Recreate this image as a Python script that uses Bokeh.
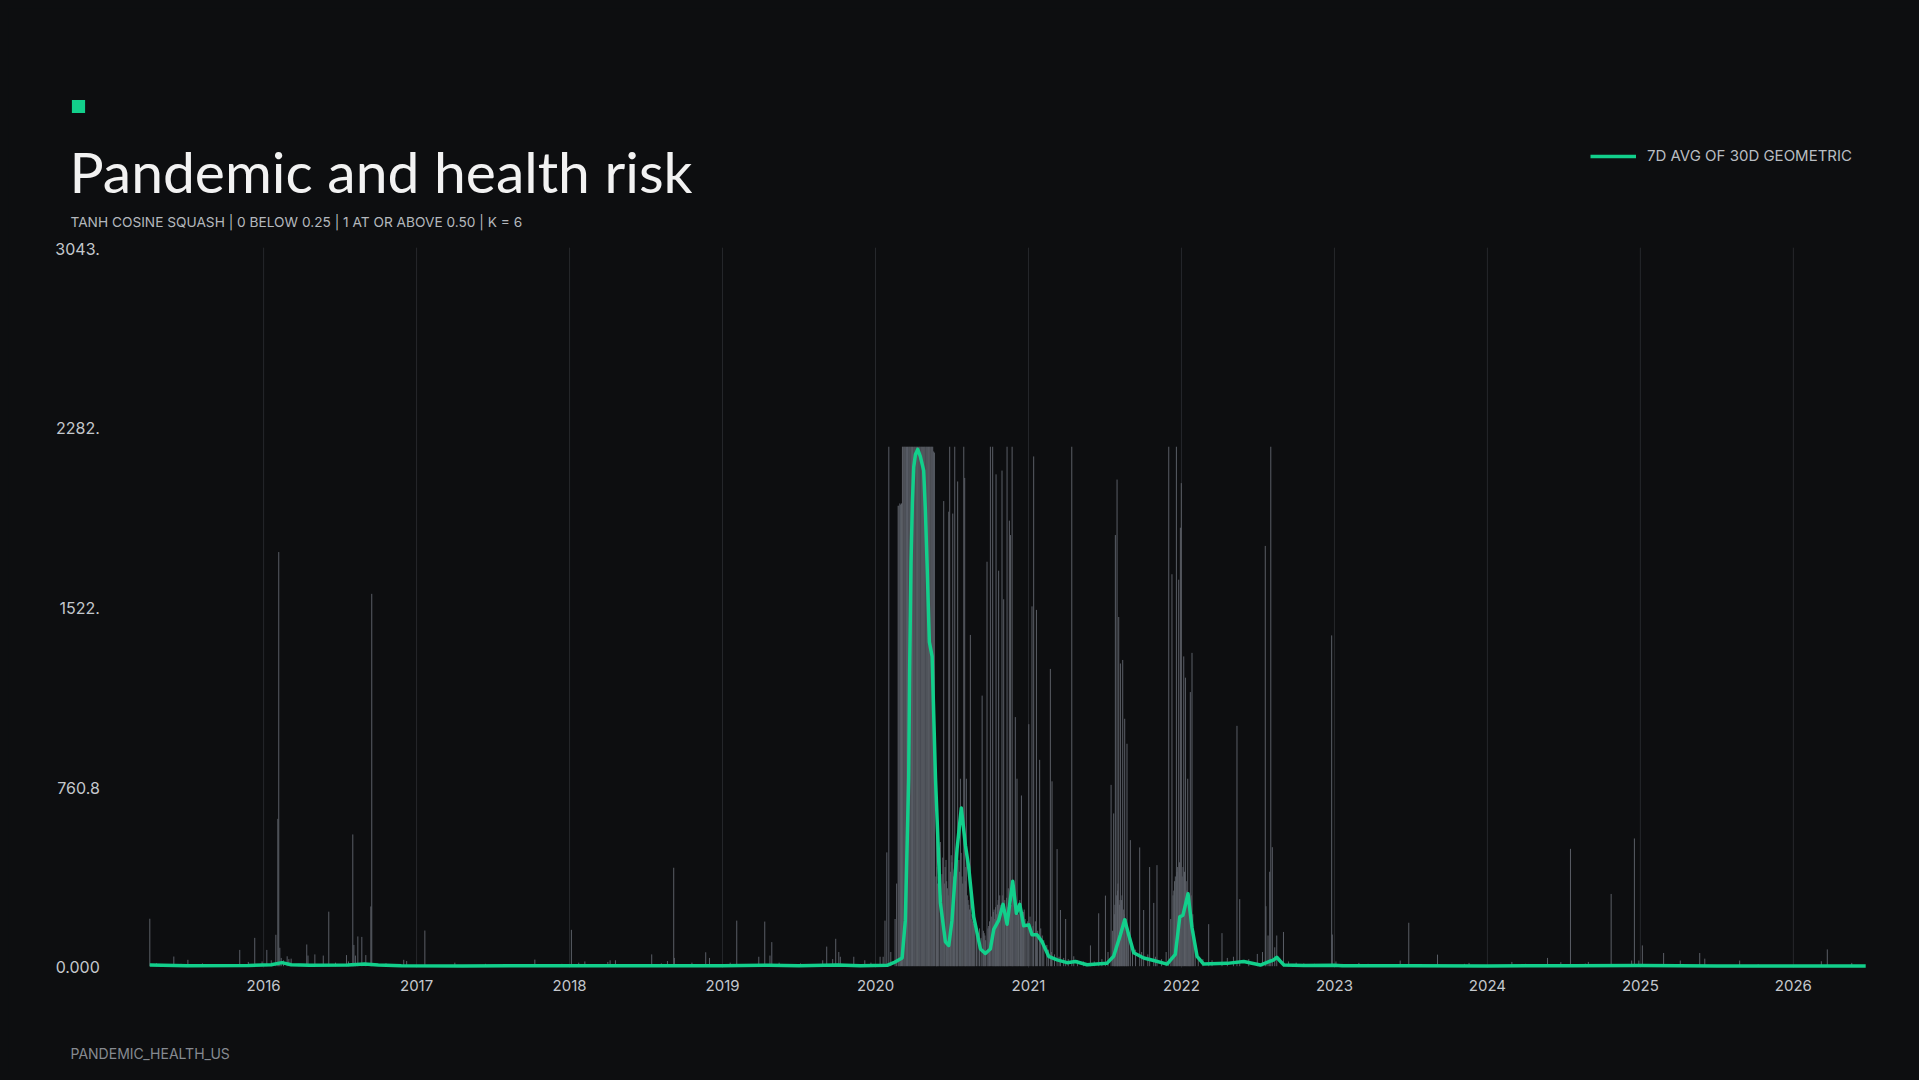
from bokeh.plotting import figure
from bokeh.models import Range1d, Label, Legend, LegendItem, BoxAnnotation
from bokeh.core.properties import value
from bokeh.embed import file_html
from bokeh.resources import INLINE

BG = "#0d0e10"
GREEN = "#12cf8b"
BAR = "#5a5e66"
GRID = "#26282c"
TICK = "#c4c8cd"

# ---- daily readings (decimal year, value) ----
bar_years = [
    2015.256, 2015.300, 2015.413, 2015.460, 2015.505, 2015.600, 2015.700, 2015.844, 2015.900, 2015.942,
    2015.990, 2016.021, 2016.050, 2016.080, 2016.093, 2016.099, 2016.106, 2016.115, 2016.130, 2016.154,
    2016.165, 2016.180, 2016.230, 2016.282, 2016.290, 2016.335, 2016.390, 2016.426, 2016.470, 2016.542,
    2016.555, 2016.583, 2016.590, 2016.600, 2016.616, 2016.642, 2016.668, 2016.701, 2016.707, 2016.800,
    2016.916, 2016.935, 2017.054, 2017.250, 2017.450, 2017.773, 2017.950, 2018.012, 2018.060, 2018.100,
    2018.250, 2018.265, 2018.300, 2018.537, 2018.600, 2018.640, 2018.681, 2018.685, 2018.800, 2018.890,
    2018.915, 2019.050, 2019.093, 2019.237, 2019.276, 2019.310, 2019.322, 2019.370, 2019.510, 2019.655,
    2019.681, 2019.720, 2019.740, 2019.760, 2019.770, 2019.858, 2019.930, 2019.970, 2020.030, 2020.050,
    2020.062, 2020.074, 2020.087, 2020.100, 2020.128, 2020.138,
    2020.148, 2020.153, 2020.159, 2020.164, 2020.170,
    2020.176, 2020.181, 2020.187, 2020.192, 2020.198, 2020.203, 2020.209, 2020.214, 2020.220, 2020.225,
    2020.231, 2020.236, 2020.242, 2020.247, 2020.253, 2020.258, 2020.264, 2020.269, 2020.275, 2020.280,
    2020.286, 2020.291, 2020.297, 2020.302, 2020.308, 2020.313, 2020.319, 2020.324, 2020.330, 2020.335,
    2020.341, 2020.346, 2020.352, 2020.357, 2020.363, 2020.368,
    2020.374, 2020.380, 2020.385, 2020.398, 2020.400, 2020.410, 2020.424, 2020.430, 2020.440, 2020.446,
    2020.450, 2020.461, 2020.470, 2020.479, 2020.485, 2020.490, 2020.500, 2020.505, 2020.510, 2020.518,
    2020.530, 2020.537, 2020.545, 2020.555, 2020.560, 2020.570, 2020.577, 2020.583, 2020.590, 2020.594,
    2020.600, 2020.610, 2020.620, 2020.630, 2020.640, 2020.650, 2020.660, 2020.670, 2020.680, 2020.690,
    2020.697, 2020.710, 2020.720, 2020.729, 2020.740, 2020.751, 2020.760, 2020.766, 2020.775, 2020.780,
    2020.788, 2020.797, 2020.805, 2020.812, 2020.820, 2020.827, 2020.838, 2020.845, 2020.852, 2020.860,
    2020.868, 2020.875, 2020.882, 2020.888, 2020.893, 2020.900, 2020.914, 2020.920, 2020.925, 2020.935,
    2020.943, 2020.954, 2020.962, 2020.972, 2020.985, 2021.002, 2021.010, 2021.023, 2021.030, 2021.034,
    2021.045, 2021.052, 2021.060, 2021.073, 2021.080, 2021.090, 2021.100, 2021.120, 2021.130, 2021.143,
    2021.150, 2021.154, 2021.170, 2021.187, 2021.200, 2021.209, 2021.230, 2021.243, 2021.260, 2021.283,
    2021.296, 2021.320, 2021.360, 2021.405, 2021.430, 2021.459, 2021.480, 2021.503, 2021.520, 2021.540,
    2021.550, 2021.557, 2021.562, 2021.568, 2021.574, 2021.579, 2021.585, 2021.590, 2021.595, 2021.601,
    2021.608, 2021.616, 2021.622, 2021.629, 2021.636, 2021.644, 2021.655, 2021.666, 2021.680, 2021.700,
    2021.727, 2021.740, 2021.753, 2021.780, 2021.792, 2021.819, 2021.830, 2021.840, 2021.870, 2021.900,
    2021.917, 2021.930, 2021.938, 2021.950, 2021.960, 2021.967, 2021.975, 2021.982, 2021.993, 2021.999,
    2022.005, 2022.015, 2022.020, 2022.026, 2022.035, 2022.041, 2022.050, 2022.058, 2022.063, 2022.069,
    2022.080, 2022.090, 2022.110, 2022.140, 2022.178, 2022.200, 2022.265, 2022.300, 2022.340, 2022.363,
    2022.381, 2022.440, 2022.496, 2022.530, 2022.548, 2022.552, 2022.566, 2022.577, 2022.584, 2022.594,
    2022.610, 2022.623, 2022.667, 2022.700, 2022.750, 2022.800, 2022.870, 2022.982, 2022.986, 2023.010,
    2023.050, 2023.160, 2023.220, 2023.430, 2023.486, 2023.674, 2023.850, 2023.880, 2024.160, 2024.250,
    2024.393, 2024.480, 2024.543, 2024.640, 2024.660, 2024.809, 2024.943, 2024.961, 2024.990, 2025.013,
    2025.152, 2025.261, 2025.388, 2025.421, 2025.649, 2025.770, 2026.183, 2026.222, 2026.382,
]
bar_values = [
    201, 12, 41, 10, 27, 12, 8, 69, 18, 120,
    20, 69, 25, 133, 624, 1754, 78, 35, 25, 42,
    30, 32, 10, 92, 45, 50, 45, 231, 15, 47,
    20, 558, 90, 45, 126, 124, 47, 253, 1577, 12,
    27, 22, 151, 15, 10, 28, 10, 154, 15, 20,
    18, 25, 25, 50, 12, 22, 417, 35, 15, 59,
    35, 15, 193, 40, 189, 45, 102, 15, 12, 25,
    83, 30, 116, 60, 40, 40, 25, 15, 40, 40,
    193, 482, 2200, 60, 200, 350,
    1950, 1950, 1960, 1955, 1960,
    2200, 2200, 2200, 2200, 2200, 2200, 2200, 2200, 2200, 2200,
    2200, 2200, 2200, 2200, 2200, 2200, 2200, 2200, 2200, 2200,
    2200, 2200, 2200, 2200, 2200, 2200, 2200, 2200, 2200, 2200,
    2200, 2200, 2200, 2200, 2200, 2200,
    2200, 2180, 2175, 647, 420, 380, 526, 300, 460, 1970,
    350, 450, 330, 1925, 2200, 400, 440, 1917, 380, 2200,
    520, 2053, 450, 794, 480, 350, 2200, 2068, 420, 794,
    300, 260, 1403, 220, 180, 160, 150, 130, 160, 120,
    1146, 140, 110, 1713, 170, 2200, 210, 2200, 240, 200,
    2083, 260, 1675, 300, 230, 2099, 1554, 280, 220, 2200,
    330, 1887, 1826, 260, 2200, 300, 1055, 250, 794, 220,
    280, 723, 200, 240, 180, 1025, 210, 1524, 170, 2159,
    190, 1509, 150, 874, 160, 130, 110, 90, 70, 1259,
    60, 783, 50, 496, 40, 238, 35, 200, 30, 2200,
    42, 25, 20, 88, 20, 224, 30, 299, 60, 768,
    150, 647, 220, 1826, 300, 2061, 350, 1479, 260, 1282,
    280, 1297, 240, 1048, 180, 942, 120, 534, 90, 70,
    503, 60, 238, 50, 420, 268, 40, 428, 30, 60,
    2200, 200, 1660, 320, 380, 2200, 420, 1637, 1857, 2046,
    380, 1312, 400, 1222, 320, 794, 260, 1161, 300, 1327,
    150, 80, 40, 30, 178, 25, 140, 35, 40, 1018,
    284, 30, 52, 60, 1780, 254, 130, 400, 2200, 504,
    80, 130, 145, 20, 15, 12, 10, 1401, 134, 20,
    10, 14, 10, 24, 184, 49, 10, 14, 18, 10,
    35, 17, 497, 11, 18, 306, 24, 541, 24, 88,
    56, 24, 56, 32, 24, 8, 21, 71, 14,
]
# further readings in the busy 2020-2022 stretch
extra_bar_years = [
    2020.395, 2020.405, 2020.415, 2020.435, 2020.455, 2020.465, 2020.475, 2020.495, 2020.515, 2020.525,
    2020.533, 2020.550, 2020.565, 2020.587, 2020.605, 2020.615, 2020.625, 2020.635, 2020.645, 2020.705,
    2020.715, 2020.735, 2020.745, 2020.770, 2020.785, 2020.792, 2020.802, 2020.815, 2020.832, 2020.842,
    2020.857, 2020.864, 2020.897, 2020.907, 2020.930, 2020.948, 2020.958, 2020.967, 2020.978, 2020.995,
    2021.565, 2021.582, 2021.598, 2021.612, 2021.626, 2021.640, 2021.650, 2021.945, 2021.955, 2021.971,
    2021.987, 2022.010, 2022.031, 2022.045, 2022.054, 2022.074,
]
extra_bar_values = [
    380, 350, 440, 390, 420, 360, 300, 470, 410, 360,
    430, 400, 380, 360, 280, 240, 200, 190, 170, 150,
    130, 160, 190, 230, 250, 220, 280, 260, 300, 240,
    290, 250, 310, 280, 240, 260, 210, 230, 200, 190,
    260, 320, 280, 300, 220, 200, 150, 300, 360, 400,
    440, 420, 360, 300, 280, 220,
]

# ---- 7D AVG OF 30D GEOMETRIC ----
line_years = [
    2015.256, 2015.500, 2015.900, 2016.050, 2016.120, 2016.180, 2016.300, 2016.550, 2016.660, 2016.750,
    2016.900, 2017.300, 2018.000, 2018.500, 2019.000, 2019.300, 2019.500, 2019.750, 2019.901, 2020.076,
    2020.119, 2020.174, 2020.195, 2020.217, 2020.223, 2020.232, 2020.241, 2020.250, 2020.261, 2020.276,
    2020.293, 2020.315, 2020.326, 2020.337, 2020.352,
    2020.370, 2020.392, 2020.424, 2020.457, 2020.479, 2020.500, 2020.533, 2020.561, 2020.588, 2020.609,
    2020.642, 2020.686, 2020.718, 2020.751, 2020.773, 2020.805, 2020.834, 2020.860, 2020.897, 2020.921,
    2020.943, 2020.969, 2021.002, 2021.023, 2021.056, 2021.089, 2021.132, 2021.187, 2021.252, 2021.307,
    2021.383, 2021.513, 2021.557, 2021.601, 2021.629, 2021.655, 2021.688, 2021.753, 2021.819, 2021.906,
    2021.960, 2021.989, 2022.010, 2022.043, 2022.069, 2022.102, 2022.145, 2022.298, 2022.407, 2022.516,
    2022.603, 2022.623, 2022.645, 2022.670, 2022.800, 2023.000, 2023.050, 2023.500, 2024.000, 2024.550,
    2025.000, 2025.500, 2026.000, 2026.473,
]
line_values = [
    5, 2, 3, 6, 15, 6, 4, 5, 9, 5,
    2, 1, 2, 2, 2, 4, 2, 5, 2, 4,
    15, 35, 194, 798, 1252, 1706, 1963, 2114, 2167, 2189,
    2159, 2099, 1932, 1706, 1373,
    1312, 798, 269, 103, 88, 194, 496, 670, 511, 420,
    209, 73, 54, 73, 156, 194, 262, 178, 360, 224,
    262, 171, 175, 133, 133, 103, 42, 27, 15, 20,
    6, 12, 42, 133, 197, 133, 57, 35, 24, 9,
    50, 209, 216, 307, 163, 42, 9, 12, 20, 5,
    27, 38, 22, 5, 3, 4, 2, 2, 1, 2,
    3, 1, 1, 1,
]

x_tick_years = [2016, 2017, 2018, 2019, 2020, 2021, 2022, 2023, 2024, 2025, 2026]
x_tick_labels = ["2016", "2017", "2018", "2019", "2020", "2021", "2022", "2023", "2024", "2025", "2026"]
y_ticks = [0, 760.75, 1521.5, 2282.25, 3043]
y_tick_labels = ["0.000", "760.8", "1522.", "2282.", "3043."]

# ---- layout (canvas pixels) ----
W, H = 1903, 1064
PL, PR, PT, PB = 141.3, 1857.2, 239.2, 957.7      # data area inside the canvas
X0, X1 = 2015.256, 2026.473
Y0, Y1 = 0.0, 3043.0
kx = (PR - PL) / (X1 - X0)
ky = (PB - PT) / (Y1 - Y0)

p = figure(width=W, height=H, output_backend="svg", toolbar_location=None, title=None,
           x_range=Range1d(X0 - PL / kx, X1 + (W - PR) / kx),
           y_range=Range1d(Y0 - (H - PB) / ky, Y1 + PT / ky),
           min_border=0, min_border_left=0, min_border_right=0,
           min_border_top=0, min_border_bottom=0,
           background_fill_color=BG, border_fill_color=BG, outline_line_color=None)
p.axis.visible = False
p.grid.visible = False

# vertical year grid over the data area
p.segment(x0=x_tick_years, y0=[Y0 - 6] * len(x_tick_years), x1=x_tick_years,
          y1=[Y1] * len(x_tick_years), line_color=GRID, line_width=1)

# daily bars
all_years = bar_years + extra_bar_years
all_values = bar_values + extra_bar_values
p.segment(x0=all_years, y0=[0] * len(all_years), x1=all_years, y1=all_values,
          line_color=BAR, line_width=1)

# smoothed line
r = p.line(line_years, line_values, line_color=GREEN, line_width=3.5, line_join="round")

# tick labels through the same scales
p.text(x=x_tick_years, y=[Y0] * len(x_tick_years), text=x_tick_labels,
       y_offset=19, text_align="center", text_baseline="middle",
       text_font=value("Inter"), text_font_size="15px", text_color=TICK)
p.text(x=[X0] * len(y_ticks), y=y_ticks, text=y_tick_labels,
       x_offset=-50, y_offset=1, text_align="right", text_baseline="middle",
       text_font=value("Inter"), text_font_size="16px", text_color=TICK)

# header / footer (screen units: from frame bottom-left, y up)
p.add_layout(BoxAnnotation(left=63.4, right=76.6, top=972.5, bottom=959.5,
                           left_units="screen", right_units="screen",
                           top_units="screen", bottom_units="screen",
                           fill_color=GREEN, fill_alpha=1, line_color=None))
p.add_layout(Label(x=61, y=902, x_units="screen", y_units="screen",
                   text="Pandemic and health risk", text_font="Lato",
                   text_font_size="57px", text_color="#f2f2f2", text_baseline="alphabetic"))
p.add_layout(Label(x=62, y=850.5, x_units="screen", y_units="screen",
                   text="TANH COSINE SQUASH | 0 BELOW 0.25 | 1 AT OR ABOVE 0.50 | K = 6",
                   text_font="Inter", text_font_size="13.7px", text_color="#b4b8bd",
                   text_baseline="middle"))
p.add_layout(Label(x=62, y=19.4, x_units="screen", y_units="screen",
                   text="PANDEMIC_HEALTH_US", text_font="Inter", text_font_size="14px",
                   text_color="#868a90", text_baseline="middle"))

legend = Legend(items=[LegendItem(label="7D AVG OF 30D GEOMETRIC", renderers=[r])],
                location=(1582, 906.5), glyph_width=46, glyph_height=20, label_height=20,
                label_standoff=11, padding=0, margin=0, spacing=0,
                background_fill_alpha=0, border_line_alpha=0,
                label_text_font="Inter", label_text_font_size="15px",
                label_text_color="#b9bdc2")
p.add_layout(legend)

html = file_html(p, INLINE, title="Pandemic and health risk")
html = html.replace("</head>", "<style>html,body{background:#0d0e10;margin:0;padding:0;}body{margin:8px;}</style></head>", 1)
open("out.html", "w").write(html)
